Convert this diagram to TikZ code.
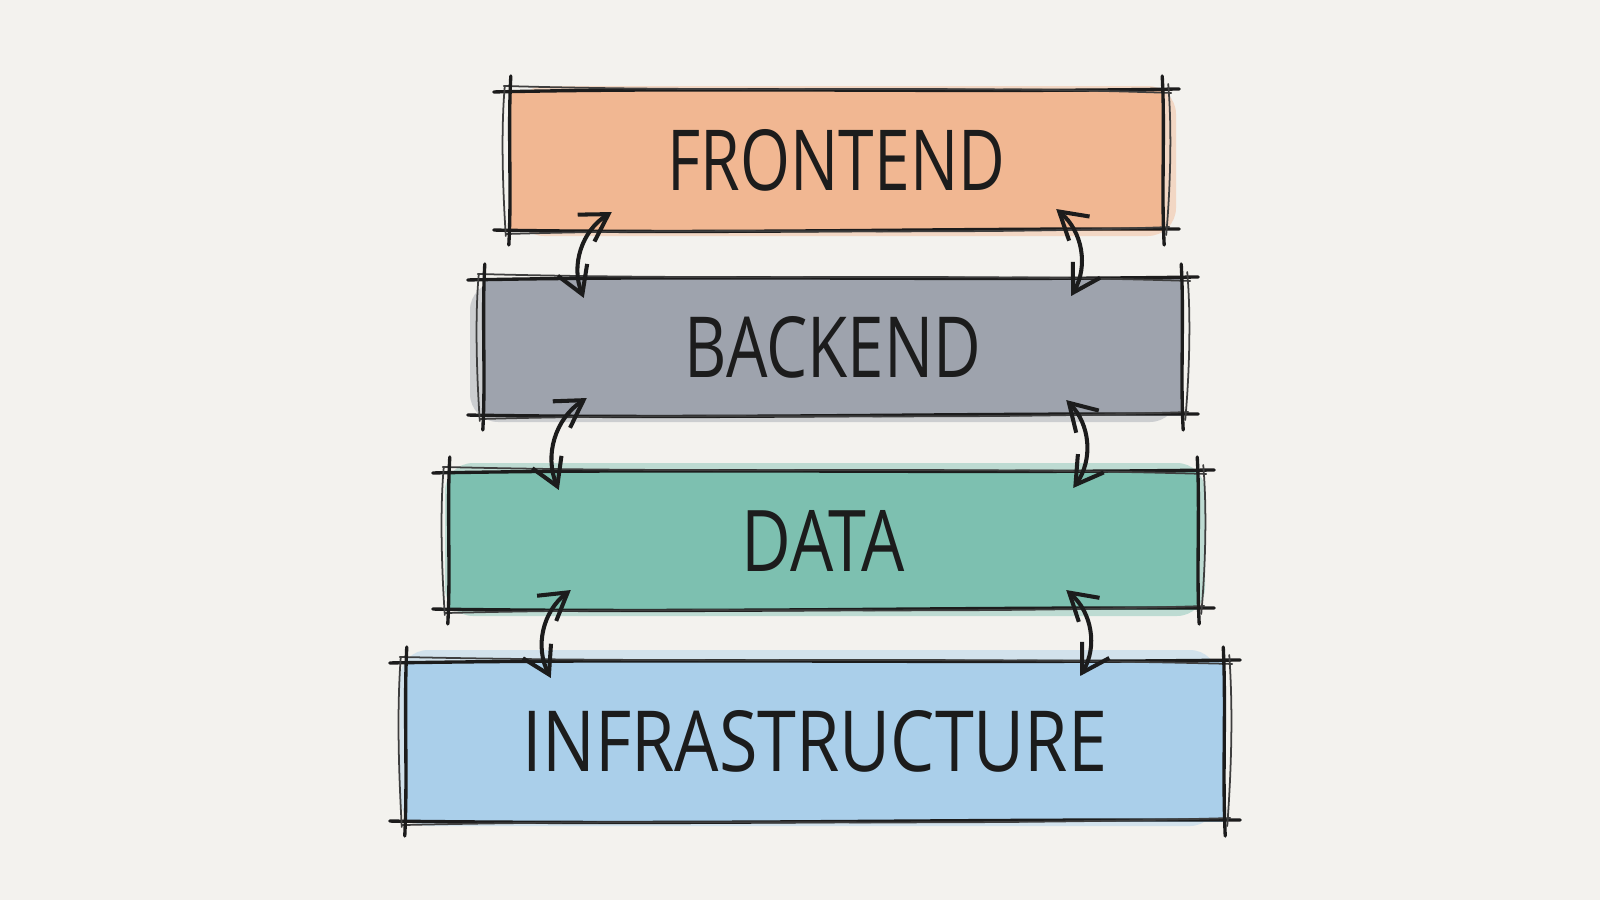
\documentclass[tikz,border=0pt]{standalone}
\usepackage{fontspec}
\setmainfont{Open Sans}
\usetikzlibrary{calc,arrows.meta}
\definecolor{paper}{HTML}{F3F2EE}
\definecolor{fefill}{HTML}{F1B792}
\definecolor{befill}{HTML}{9EA3AD}
\definecolor{dafill}{HTML}{7DC0B0}
\definecolor{infill}{HTML}{AACFEA}
\definecolor{ink}{HTML}{1C1C1C}
\newcommand\sketchframe[1]{%
 \draw[skline] ($(#1.north west)+(-16,2)$) .. controls ($(#1.north)+(-120,-3)$) and ($(#1.north)+(120,3)$) .. ($(#1.north east)+(16,-1)$);
 \draw[skthin] ($(#1.north west)+(-6,-4)$) .. controls ($(#1.north)+(-90,3)$) and ($(#1.north)+(110,-5)$) .. ($(#1.north east)+(8,3)$);
 \draw[skline] ($(#1.south west)+(-16,-1)$) .. controls ($(#1.south)+(-110,3)$) and ($(#1.south)+(120,-3)$) .. ($(#1.south east)+(16,-2)$);
 \draw[skthin] ($(#1.south west)+(-4,3)$) .. controls ($(#1.south)+(-100,-4)$) and ($(#1.south)+(90,5)$) .. ($(#1.south east)+(6,-4)$);
 \draw[skline] ($(#1.north west)+(1,-14)$) .. controls ($(#1.west)+(-2,-30)$) and ($(#1.west)+(2,30)$) .. ($(#1.south west)+(-1,14)$);
 \draw[skthin] ($(#1.north west)+(-5,-4)$) .. controls ($(#1.west)+(-9,-30)$) and ($(#1.west)+(-7,30)$) .. ($(#1.south west)+(-4,5)$);
 \draw[skline] ($(#1.north east)+(-1,-14)$) .. controls ($(#1.east)+(2,-30)$) and ($(#1.east)+(-2,30)$) .. ($(#1.south east)+(1,14)$);
 \draw[skthin] ($(#1.north east)+(5,-6)$) .. controls ($(#1.east)+(9,-30)$) and ($(#1.east)+(7,30)$) .. ($(#1.south east)+(3,4)$);
}
\begin{document}
\begin{tikzpicture}[x=0.01cm,y=-0.01cm,
  skline/.style={ink, line width=0.95pt, line cap=round},
  skthin/.style={ink!85, line width=0.5pt, line cap=round},
  layer/.style={inner sep=0pt, outer sep=0pt, text=ink},
  arr/.style={ink, line width=1.15pt, line cap=round,
    {Straight Barb[length=7.5pt,width=9pt,line width=1.15pt]}-{Straight Barb[length=7.5pt,width=9pt,line width=1.15pt]}}]
\fill[paper] (0,0) rectangle (1600,900);
% watercolour smears
\fill[fefill, opacity=.45, rounded corners=8pt] (516,86) rectangle (1176,236);
\fill[befill, opacity=.45, rounded corners=8pt] (470,282) rectangle (1178,422);
\fill[dafill, opacity=.45, rounded corners=8pt] (445,463) rectangle (1205,616);
\fill[infill, opacity=.45, rounded corners=8pt] (400,650) rectangle (1218,826);
% layers
\node[layer, fill=fefill, minimum width=6.53cm, minimum height=1.41cm] (fe) at (836.5,160.5)
  {\resizebox{3.37cm}{0.61cm}{FRONTEND}};
\node[layer, fill=befill, minimum width=6.98cm, minimum height=1.38cm] (be) at (833,347)
  {\resizebox{2.96cm}{0.61cm}{BACKEND}};
\node[layer, fill=dafill, minimum width=7.49cm, minimum height=1.39cm] (da) at (823.5,540.5)
  {\resizebox{1.63cm}{0.61cm}{DATA}};
\node[layer, fill=infill, minimum width=8.18cm, minimum height=1.61cm] (in) at (815,741.5)
  {\resizebox{5.84cm}{0.61cm}{INFRASTRUCTURE}};
\sketchframe{fe}
\sketchframe{be}
\sketchframe{da}
\sketchframe{in}
% arrows
\draw[arr] ($(fe.south west)+(102,-19)$) to[bend right=40] ($(be.north west)+(100,20)$);
\draw[arr] ($(fe.south east)+(-107,-22)$) to[bend left=40] ($(be.north east)+(-111,18)$);
\draw[arr] ($(be.south west)+(103,-18)$) to[bend right=40] ($(da.north west)+(110,19)$);
\draw[arr] ($(be.south east)+(-116,-16)$) to[bend left=40] ($(da.north east)+(-125,17)$);
\draw[arr] ($(da.south west)+(122,-20)$) to[bend right=40] ($(in.north west)+(145,17)$);
\draw[arr] ($(da.south east)+(-132,-20)$) to[bend left=40] ($(in.north east)+(-144,15)$);
\end{tikzpicture}
\end{document}
